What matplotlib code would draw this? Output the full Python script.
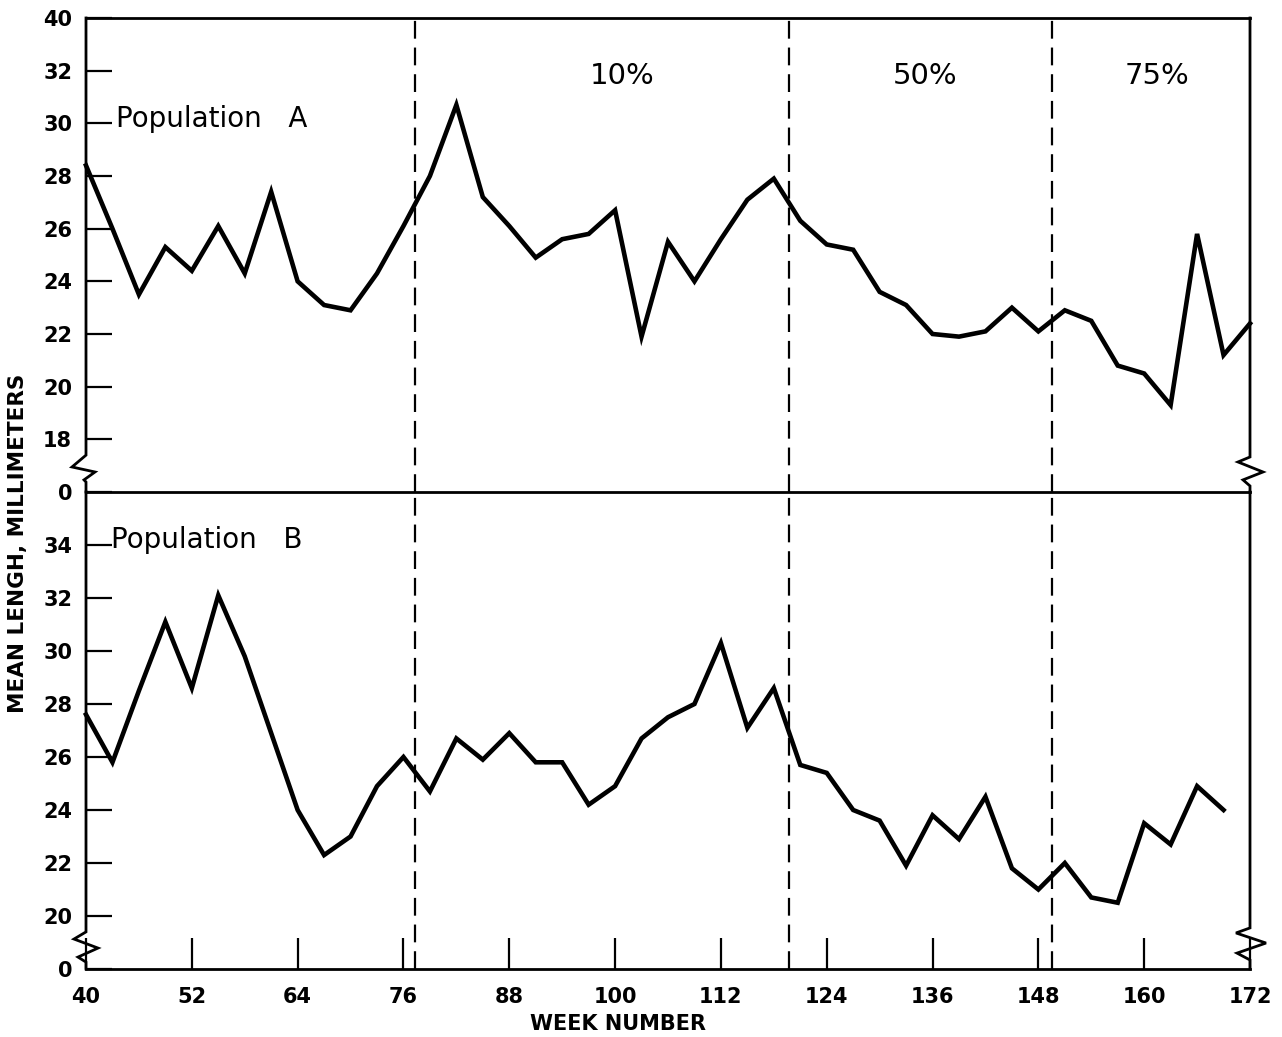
import matplotlib
matplotlib.use('Agg')
import matplotlib.pyplot as plt

# ===== DATA =====
weeks_a = [40, 43, 46, 49, 52, 55, 58, 61, 64, 67, 70, 73, 76, 79, 82, 85,
           88, 91, 94, 97, 100, 103, 106, 109, 112, 115, 118, 121, 124, 127,
           130, 133, 136, 139, 142, 145, 148, 151, 154, 157, 160, 163, 166,
           169, 172]
length_a = [28.4, 26.0, 23.5, 25.3, 24.4, 26.1, 24.3, 27.4, 24.0, 23.1, 22.9,
            24.3, 26.1, 28.0, 30.7, 27.2, 26.1, 24.9, 25.6, 25.8, 26.7, 21.9,
            25.5, 24.0, 25.6, 27.1, 27.9, 26.3, 25.4, 25.2, 23.6, 23.1, 22.0,
            21.9, 22.1, 23.0, 22.1, 22.9, 22.5, 20.8, 20.5, 19.3, 25.8, 21.2,
            22.4]

weeks_b = [40, 43, 46, 49, 52, 55, 58, 61, 64, 67, 70, 73, 76, 79, 82, 85,
           88, 91, 94, 97, 100, 103, 106, 109, 112, 115, 118, 121, 124, 127,
           130, 133, 136, 139, 142, 145, 148, 151, 154, 157, 160, 163, 166,
           169]
length_b = [27.6, 25.8, 28.5, 31.1, 28.6, 32.1, 29.8, 26.9, 24.0, 22.3, 23.0,
            24.9, 26.0, 24.7, 26.7, 25.9, 26.9, 25.8, 25.8, 24.2, 24.9, 26.7,
            27.5, 28.0, 30.3, 27.1, 28.6, 25.7, 25.4, 24.0, 23.6, 21.9, 23.8,
            22.9, 24.5, 21.8, 21.0, 22.0, 20.7, 20.5, 23.5, 22.7, 24.9, 24.0]

# treatment boundaries (weeks) and their labels
boundaries = [77.3, 119.7, 149.5]
phase_labels = ['10%', '50%', '75%']
phase_x = [100.8, 135.1, 161.4]

x_ticks = [40, 52, 64, 76, 88, 100, 112, 124, 136, 148, 160, 172]
# broken axes: lowest tick stands for 0, top panel's highest for 40
yticks_a = [16, 18, 20, 22, 24, 26, 28, 30, 32, 34]
ylabels_a = ['0', '18', '20', '22', '24', '26', '28', '30', '32', '40']
yticks_b = [18, 20, 22, 24, 26, 28, 30, 32, 34]
ylabels_b = ['0', '20', '22', '24', '26', '28', '30', '32', '34']

plt.rcParams['font.family'] = 'DejaVu Sans'

W, H = 1282, 1037
fig = plt.figure(figsize=(W / 100, H / 100), dpi=100)
left, right = 86, 1250
ax_a = fig.add_axes([left / W, (H - 492) / H, (right - left) / W, 474 / H])
ax_b = fig.add_axes([left / W, (H - 969) / H, (right - left) / W, 477 / H])

LW_AX = 2.0
for ax in (ax_a, ax_b):
    ax.patch.set_visible(False)
    ax.set_xlim(40, 172)
    for s in ('left', 'right'):
        ax.spines[s].set_visible(False)
    for s in ('top', 'bottom'):
        ax.spines[s].set_linewidth(LW_AX)
    ax.tick_params(axis='y', direction='in', length=19, width=1.6,
                   pad=10, labelsize=15)
    for xb in boundaries:
        ax.axvline(xb, color='black', lw=1.6, linestyle=(0, (8, 4)))

ax_b.spines['top'].set_visible(False)

ax_a.set_ylim(16, 34)
ax_b.set_ylim(18, 36)

ax_a.set_yticks(yticks_a)
ax_a.set_yticklabels(ylabels_a, fontweight='bold')
ax_b.set_yticks(yticks_b)
ax_b.set_yticklabels(ylabels_b, fontweight='bold')

ax_a.tick_params(axis='x', bottom=False, labelbottom=False)
ax_b.set_xticks(x_ticks)
ax_b.set_xticklabels([str(t) for t in x_ticks], fontweight='bold')
ax_b.tick_params(axis='x', direction='in', length=22, width=1.6,
                 pad=13, labelsize=15)

ax_a.plot(weeks_a, length_a, color='black', lw=3.3,
          solid_joinstyle='miter', clip_on=False)
ax_b.plot(weeks_b, length_b, color='black', lw=3.3,
          solid_joinstyle='miter', clip_on=False)


# side axis lines with the little "break" zig-zags
def side_line(ax, xpos, ytop, ybot, zig):
    span = right - left
    xs = [xpos] + [xpos + dx / span for dx, _ in zig] + [xpos]
    ys = [ytop] + [y for _, y in zig] + [ybot]
    ax.plot(xs, ys, color='black', lw=LW_AX, transform=ax.get_yaxis_transform(),
            clip_on=False, solid_joinstyle='miter')


side_line(ax_a, 0, 34, 16, [(0, 17.4), (-14, 16.95), (9, 16.76), (-2, 16.46), (0, 16.38)])
side_line(ax_a, 1, 34, 16, [(0, 17.33), (-12, 17.14), (13, 16.76), (-7, 16.46), (0, 16.23)])
side_line(ax_b, 0, 36, 18, [(0, 19.4), (-12, 19.13), (12, 18.79), (-8, 18.45), (0, 18.26)])
side_line(ax_b, 1, 36, 18, [(0, 19.55), (-14, 19.36), (16, 18.98), (-13, 18.6), (0, 18.34)])

# annotations
ax_a.text(43.4, 29.85, 'Population   A', fontsize=20, va='baseline', ha='left')
ax_b.text(42.8, 33.9, 'Population   B', fontsize=20, va='baseline', ha='left')
for lab, xp in zip(phase_labels, phase_x):
    ax_a.text(xp, 31.8, lab, fontsize=21, ha='center', va='center')

fig.text(618 / W, 1 - 1024 / H, 'WEEK NUMBER', fontsize=15, fontweight='bold',
         ha='center', va='center')
fig.text(18 / W, 1 - 543 / H, 'MEAN LENGH, MILLIMETERS', fontsize=15.5,
         fontweight='bold', rotation=90, ha='center', va='center')

fig.savefig('out.png', dpi=100, facecolor='white')
